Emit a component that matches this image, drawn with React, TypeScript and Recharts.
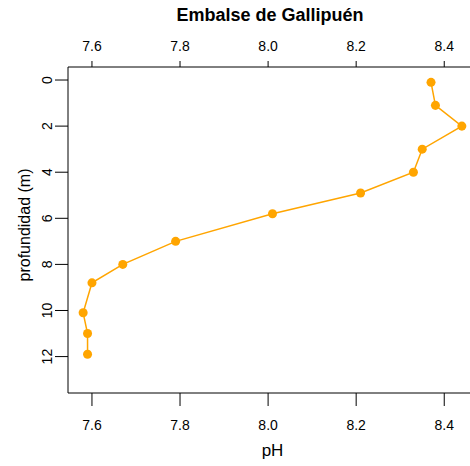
import React from 'react';
import { ScatterChart, Scatter, XAxis, YAxis, ZAxis } from 'recharts';

// perfil de pH, Embalse de Gallipuén
const phValues = [8.37, 8.38, 8.44, 8.35, 8.33, 8.21, 8.01, 7.79, 7.67, 7.6, 7.58, 7.59, 7.59];
const depthValues = [0.1, 1.1, 2.0, 3.0, 4.0, 4.9, 5.8, 7.0, 8.0, 8.8, 10.1, 11.0, 11.9];
const phTicks = [7.6, 7.8, 8.0, 8.2, 8.4];
const depthTicks = [0, 2, 4, 6, 8, 10, 12];

const profile = phValues.map((ph, i) => ({ ph, depth: depthValues[i] }));

const ORANGE = '#FFA500';
const FONT = '"Liberation Sans", Arial, sans-serif';

const DepthTick = (props: any) => {
  const { x, y, payload } = props;
  return (
    <text
      x={x}
      y={y}
      transform={`rotate(-90 ${x} ${y})`}
      textAnchor="middle"
      fontSize={14}
      fontFamily={FONT}
      fill="#000"
    >
      {payload.value}
    </text>
  );
};

const PhLabel = (props: any) => {
  const vb = props.viewBox;
  const cx = vb.x + vb.width / 2;
  return (
    <text x={cx} y={vb.y + 63} textAnchor="middle" fontSize={17} fontFamily={FONT} fill="#000">
      pH
    </text>
  );
};

const DepthLabel = (props: any) => {
  const vb = props.viewBox;
  const x = vb.x + 22;
  const y = vb.y + vb.height / 2 - 5;
  return (
    <text x={x} y={y} transform={`rotate(-90 ${x} ${y})`} textAnchor="middle" fontSize={16} fontFamily={FONT} fill="#000">
      profundidad (m)
    </text>
  );
};

export default function App() {
  return (
    <div style={{ position: 'absolute', left: 0, top: 0, width: 470, height: 466, overflow: 'hidden', background: '#fff', fontFamily: FONT }}>
      <div style={{ position: 'absolute', left: 0, top: 5, width: 540, textAlign: 'center', fontWeight: 'bold', fontSize: 18, color: '#000' }}>
        Embalse de Gallipuén
      </div>
      <ScatterChart width={490} height={466} margin={{ top: 27, right: 13, bottom: 23, left: 8 }}>
        <XAxis
          xAxisId="bottom"
          dataKey="ph"
          type="number"
          orientation="bottom"
          domain={[7.5456, 8.4744]}
          allowDataOverflow
          ticks={phTicks}
          tickFormatter={(v: number) => v.toFixed(1)}
          height={50}
          tickSize={13}
          tickMargin={14}
          stroke="#000"
          tick={{ fill: '#000', fontSize: 14, fontFamily: FONT }}
          label={<PhLabel />}
        />
        <XAxis
          xAxisId="top"
          dataKey="ph"
          type="number"
          orientation="top"
          domain={[7.5456, 8.4744]}
          allowDataOverflow
          ticks={phTicks}
          tickFormatter={(v: number) => v.toFixed(1)}
          height={40}
          tickSize={6}
          tickMargin={10}
          stroke="#000"
          tick={{ fill: '#000', fontSize: 14, fontFamily: FONT }}
        />
        <YAxis
          dataKey="depth"
          type="number"
          reversed
          domain={[-0.565, 13.58]}
          allowDataOverflow
          ticks={depthTicks}
          width={60}
          tickSize={13}
          tickMargin={3}
          stroke="#000"
          tick={<DepthTick />}
          label={<DepthLabel />}
        />
        <ZAxis range={[50, 50]} />
        <Scatter
          xAxisId="bottom"
          data={profile}
          fill={ORANGE}
          line={{ stroke: ORANGE, strokeWidth: 1.5 }}
          isAnimationActive={false}
        />
      </ScatterChart>
    </div>
  );
}
